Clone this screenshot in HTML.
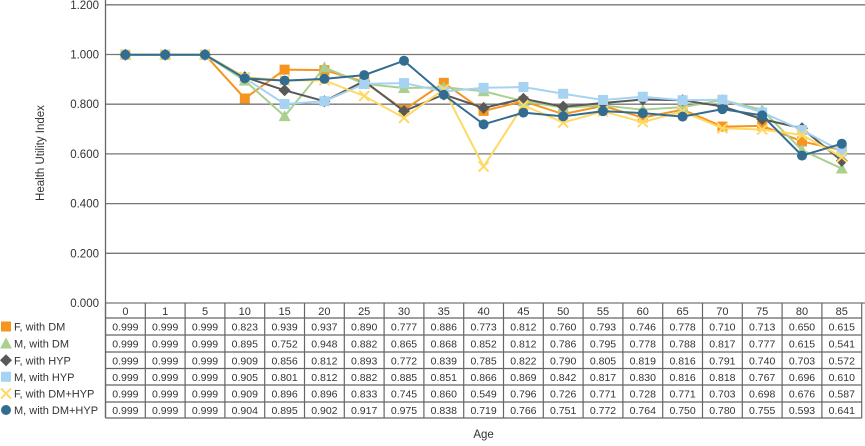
<!DOCTYPE html>
<html><head><meta charset="utf-8"><style>
body{margin:0;background:#fff;font-family:"Liberation Sans",sans-serif;}
svg text{font-family:"Liberation Sans",sans-serif;fill:#333;}
</style></head><body>
<svg id="c" width="865" height="441"></svg>
<script>
const ages=["0","1","5","10","15","20","25","30","35","40","45","50","55","60","65","70","75","80","85"];
const fDM=[0.999,0.999,0.999,0.823,0.939,0.937,0.890,0.777,0.886,0.773,0.812,0.760,0.793,0.746,0.778,0.710,0.713,0.650,0.615];
const mDM=[0.999,0.999,0.999,0.895,0.752,0.948,0.882,0.865,0.868,0.852,0.812,0.786,0.795,0.778,0.788,0.817,0.777,0.615,0.541];
const fHYP=[0.999,0.999,0.999,0.909,0.856,0.812,0.893,0.772,0.839,0.785,0.822,0.790,0.805,0.819,0.816,0.791,0.740,0.703,0.572];
const mHYP=[0.999,0.999,0.999,0.905,0.801,0.812,0.882,0.885,0.851,0.866,0.869,0.842,0.817,0.830,0.816,0.818,0.767,0.696,0.610];
const fDMH=[0.999,0.999,0.999,0.909,0.896,0.896,0.833,0.745,0.860,0.549,0.796,0.726,0.771,0.728,0.771,0.703,0.698,0.676,0.587];
const mDMH=[0.999,0.999,0.999,0.904,0.895,0.902,0.917,0.975,0.838,0.719,0.766,0.751,0.772,0.764,0.750,0.780,0.755,0.593,0.641];
const yTicks=[0,0.2,0.4,0.6,0.8,1.0,1.2];
const series=[
 {name:"F, with DM",v:fDM,c:"#F7941D",m:"sq",key:"f-dm"},
 {name:"M, with DM",v:mDM,c:"#A9D08E",m:"tri",key:"m-dm"},
 {name:"F, with HYP",v:fHYP,c:"#595959",m:"dia",key:"f-hyp"},
 {name:"M, with HYP",v:mHYP,c:"#A6D3F2",m:"sq",key:"m-hyp"},
 {name:"F, with DM+HYP",v:fDMH,c:"#FFD966",m:"x",key:"f-dmhyp"},
 {name:"M, with DM+HYP",v:mDMH,c:"#336C91",m:"circ",key:"m-dmhyp"}];
const NS="http://www.w3.org/2000/svg",svg=document.getElementById('c');
const L=105.5,CW=39.8,Y0=303,YS=248.5;
const X=i=>L+CW*(i+0.5), Y=v=>Y0-v*YS;
function el(t,a,p){const e=document.createElementNS(NS,t);for(const k in a)e.setAttribute(k,a[k]);(p||svg).appendChild(e);return e;}
yTicks.forEach(t=>{
 const g=el('line',{x1:L,x2:865,y1:Y(t),y2:Y(t),stroke:'#777','stroke-width':1.3});
 
 
 const tx=el('text',{x:99,y:Y(t)+4,'text-anchor':'end','font-size':11.5});tx.textContent=t.toFixed(3);
 
 
});
const ax=el('line',{x1:L,x2:L,y1:0,y2:418,stroke:'#666','stroke-width':1.3});


const yt=el('text',{x:0,y:0,'font-size':11.5,'text-anchor':'middle',transform:'translate(44,153) rotate(-90)'});yt.textContent='Health Utility Index';


function marker(s,x,y,g){
 let e;
 if(s.m==='sq')e=el('rect',{x:x-5,y:y-5,width:10,height:10,fill:s.c},g);
 else if(s.m==='tri')e=el('polygon',{points:`${x},${y-6} ${x+6},${y+5} ${x-6},${y+5}`,fill:s.c},g);
 else if(s.m==='dia')e=el('polygon',{points:`${x},${y-6} ${x+6},${y} ${x},${y+6} ${x-6},${y}`,fill:s.c},g);
 else if(s.m==='circ')e=el('circle',{cx:x,cy:y,r:5,fill:s.c},g);
 else e=el('path',{d:`M${x-5} ${y-5}L${x+5} ${y+5}M${x+5} ${y-5}L${x-5} ${y+5}`,stroke:s.c,'stroke-width':2},g);
 return e;
}
series.forEach(s=>{
 const g=el('g',{});
 
 
 const p=el('polyline',{points:s.v.map((v,i)=>X(i)+','+Y(v)).join(' '),fill:'none',stroke:s.c,'stroke-width':2},g);
 
 
 s.v.forEach((v,i)=>{const m=marker(s,X(i),Y(v),g);
  
  });
});
const rowsY=[303,318,335,352,368.5,385,402,418];
const tg=el('g',{});


const R=L+CW*ages.length;
rowsY.forEach((y,k)=>{if(k>0)el('line',{x1:L,x2:R,y1:y,y2:y,stroke:'#666','stroke-width':1.2},tg);});
for(let i=0;i<=ages.length;i++)el('line',{x1:L+CW*i,x2:L+CW*i,y1:303,y2:418,stroke:'#666','stroke-width':1.2},tg);
ages.forEach((a,i)=>{const t=el('text',{x:X(i),y:315,'text-anchor':'middle','font-size':11},tg);t.textContent=a;
 
 });
series.forEach((s,r)=>{
 const cy=(rowsY[r+1]+rowsY[r+2])/2;
 s.v.forEach((v,i)=>{const t=el('text',{x:X(i),y:cy+4,'text-anchor':'middle','font-size':10.5},tg);t.textContent=v.toFixed(3);
  
  });
 const lg=el('g',{},tg);
 
 
 marker(s,6,cy,lg);
 const t=el('text',{x:14,y:cy+4,'font-size':11},lg);t.textContent=s.name;
});
const at=el('text',{x:L+CW*ages.length/2,y:438,'text-anchor':'middle','font-size':11.5});at.textContent='Age';


</script></body></html>
